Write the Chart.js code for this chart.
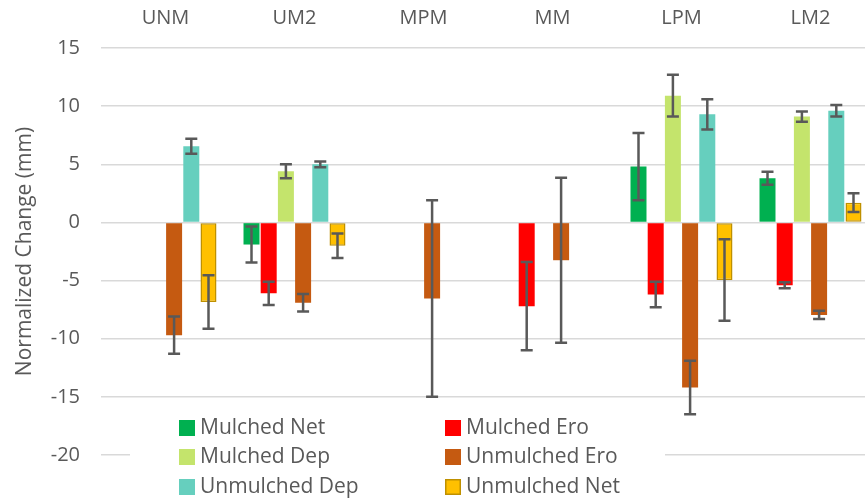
<!DOCTYPE html>
<html>
<head>
<meta charset="utf-8">
<script src="https://cdn.jsdelivr.net/npm/chart.js@4.4.0/dist/chart.umd.min.js"></script>
<style>
  html, body { margin: 0; padding: 0; background: #fff; overflow: hidden; }
  #wrap { width: 876px; height: 502px; }
</style>
</head>
<body>
<div id="wrap"><canvas id="chart" width="876" height="502"></canvas></div>
<script>
const categories = ['UNM', 'UM2', 'MPM', 'MM', 'LPM', 'LM2'];

const mulchedNet      = [null, -1.9, null, null, 4.8, 3.8];
const mulchedNetErr   = [null, 1.55, null, null, 2.9, 0.55];
const mulchedEro      = [null, -6.1, null, -7.2, -6.2, -5.4];
const mulchedEroErr   = [null, 1.0, null, 3.8, 1.1, 0.25];
const mulchedDep      = [null, 4.4, null, null, 10.9, 9.1];
const mulchedDepErr   = [null, 0.6, null, null, 1.8, 0.45];
const unmulchedEro    = [-9.7, -6.9, -6.55, -3.25, -14.2, -7.95];
const unmulchedEroErr = [1.6, 0.75, 8.45, 7.1, 2.3, 0.35];
const unmulchedDep    = [6.55, 5.0, null, null, 9.3, 9.6];
const unmulchedDepErr = [0.65, 0.25, null, null, 1.3, 0.5];
const unmulchedNet    = [-6.85, -2.0, null, null, -4.95, 1.7];
const unmulchedNetErr = [2.3, 1.05, null, null, 3.5, 0.8];

const yTicks = [-20, -15, -10, -5, 0, 5, 10, 15];

const FONT = "'Open Sans', sans-serif";
const TEXT = '#595959';

function series(label, data, errors, color, border) {
    return {
        label: label,
        data: data,
        errors: errors,
        backgroundColor: color,
        borderColor: border || color,
        borderWidth: border ? 1.5 : 0,
        borderSkipped: false,
        categoryPercentage: 0.8,
        barPercentage: 0.93,
    };
}

// vertical error bars with caps, drawn over the bars
const errorBars = {
    id: 'errorBars',
    afterDatasetsDraw(chart) {
        const ctx = chart.ctx;
        const y = chart.scales.y;
        ctx.save();
        ctx.strokeStyle = '#595959';
        ctx.lineWidth = 2.5;
        chart.data.datasets.forEach((ds, i) => {
            const meta = chart.getDatasetMeta(i);
            ds.data.forEach((v, j) => {
                const e = ds.errors[j];
                if (v === null || e === null) return;
                const x = meta.data[j].x;
                const y1 = y.getPixelForValue(v + e);
                const y2 = y.getPixelForValue(v - e);
                ctx.beginPath();
                ctx.moveTo(x, y1); ctx.lineTo(x, y2);
                ctx.moveTo(x - 6, y1); ctx.lineTo(x + 6, y1);
                ctx.moveTo(x - 6, y2); ctx.lineTo(x + 6, y2);
                ctx.stroke();
            });
        });
        ctx.restore();
    }
};

// legend box sitting inside the plot, two columns
const insideLegend = {
    id: 'insideLegend',
    afterDraw(chart) {
        const ctx = chart.ctx;
        ctx.save();
        ctx.fillStyle = '#fff';
        ctx.fillRect(130, 408, 535, 94);
        ctx.font = '21px ' + FONT;
        ctx.textBaseline = 'middle';
        const cols = [179, 445];
        const rows = [428, 457, 487];
        chart.data.datasets.forEach((ds, i) => {
            const bx = cols[i % 2];
            const by = rows[Math.floor(i / 2)];
            ctx.fillStyle = ds.backgroundColor;
            ctx.fillRect(bx, by - 8, 16, 16);
            if (ds.borderWidth) {
                ctx.strokeStyle = ds.borderColor;
                ctx.lineWidth = 1.5;
                ctx.strokeRect(bx + 0.75, by - 7.25, 14.5, 14.5);
            }
            ctx.fillStyle = TEXT;
            ctx.fillText(ds.label, bx + 21, by);
        });
        ctx.restore();
    }
};

new Chart(document.getElementById('chart'), {
    type: 'bar',
    data: {
        labels: categories,
        datasets: [
            series('Mulched Net', mulchedNet, mulchedNetErr, '#00B050'),
            series('Mulched Ero', mulchedEro, mulchedEroErr, '#FF0000'),
            series('Mulched Dep', mulchedDep, mulchedDepErr, '#C4E46C'),
            series('Unmulched Ero', unmulchedEro, unmulchedEroErr, '#C55A11'),
            series('Unmulched Dep', unmulchedDep, unmulchedDepErr, '#66CFBE'),
            series('Unmulched Net', unmulchedNet, unmulchedNetErr, '#FFC000', '#BF9000'),
        ]
    },
    options: {
        responsive: false,
        animation: false,
        layout: { padding: { left: 0, right: 1, top: 0, bottom: 47 } },
        plugins: {
            legend: { display: false },
            tooltip: { enabled: false }
        },
        scales: {
            x: {
                position: 'top',
                grid: { display: false, drawTicks: false },
                border: { display: false },
                ticks: { color: TEXT, font: { family: FONT, size: 20 }, padding: 18 },
                afterFit(scale) { scale.height = 48; }
            },
            y: {
                min: -20,
                max: 15,
                afterBuildTicks(scale) { scale.ticks = yTicks.map(v => ({ value: v })); },
                grid: { color: '#D9D9D9', lineWidth: 1.5, drawTicks: false },
                border: { display: false },
                ticks: { color: TEXT, font: { family: FONT, size: 20 }, padding: 21 },
                title: {
                    display: true,
                    text: 'Normalized Change (mm)',
                    color: TEXT,
                    font: { family: FONT, size: 21 },
                    padding: { top: 12, bottom: 0 }
                },
                afterFit(scale) { scale.width = 101; }
            }
        }
    },
    plugins: [errorBars, insideLegend]
});
</script>
</body>
</html>
